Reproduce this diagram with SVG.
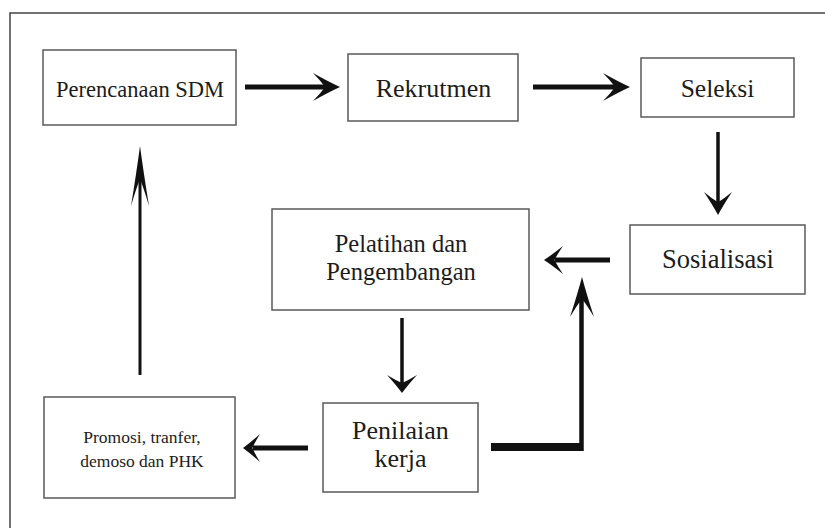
<svg xmlns="http://www.w3.org/2000/svg" xmlns:xlink="http://www.w3.org/1999/xlink" width="825" height="528" viewBox="0 0 825 528">
<style>
.box{fill:#fff;stroke:#5a5a5a;stroke-width:1.5}
.t{font-family:"Liberation Serif","Times New Roman",serif;fill:#1c1c1c;text-anchor:middle}
.sh{stroke:#111;fill:none;stroke-linecap:butt}
.hd{fill:#111}
.frame{stroke:#444;stroke-width:1.5;fill:none}
</style>
<defs>
<path id="head" d="M0,0 Q-0.45,-0.4 -1,-1 Q-0.72,-0.45 -0.55,0 Q-0.72,0.45 -1,1 Q-0.45,0.4 0,0 Z"/>
</defs>
<rect width="825" height="528" fill="#fff"/>
<path class="frame" d="M10,528 L10,13 L825,13"/>

<g id="perencanaan">
<rect class="box" x="43" y="50" width="193" height="75"/>
<text class="t" x="140" y="97" font-size="22.5">Perencanaan SDM</text>
</g>
<g id="rekrutmen">
<rect class="box" x="348" y="54" width="170" height="67"/>
<text class="t" x="433.5" y="97" font-size="26">Rekrutmen</text>
</g>
<g id="seleksi">
<rect class="box" x="641" y="58" width="153" height="59"/>
<text class="t" x="717.5" y="97" font-size="25.5">Seleksi</text>
</g>
<g id="sosialisasi">
<rect class="box" x="630" y="225" width="175" height="69"/>
<text class="t" x="718" y="268" font-size="26.5">Sosialisasi</text>
</g>
<g id="pelatihan">
<rect class="box" x="272" y="209" width="257" height="101"/>
<text class="t" x="401" y="252" font-size="24.5">Pelatihan dan</text>
<text class="t" x="401" y="280" font-size="24.5">Pengembangan</text>
</g>
<g id="penilaian">
<rect class="box" x="323" y="403" width="155" height="89"/>
<text class="t" x="400.5" y="439" font-size="26">Penilaian</text>
<text class="t" x="400.5" y="467" font-size="26">kerja</text>
</g>
<g id="promosi">
<rect class="box" x="44" y="397" width="191" height="101"/>
<text class="t" x="142" y="443" font-size="17.5">Promosi, tranfer,</text>
<text class="t" x="142" y="467" font-size="17.5">demoso dan PHK</text>
</g>

<g id="connectors">
<!-- Perencanaan -> Rekrutmen -->
<line class="sh" x1="245" y1="87" x2="325" y2="87" stroke-width="5"/>
<use xlink:href="#head" class="hd" transform="translate(340,87) scale(27,14)"/>
<!-- Rekrutmen -> Seleksi -->
<line class="sh" x1="533" y1="87" x2="615" y2="87" stroke-width="5"/>
<use xlink:href="#head" class="hd" transform="translate(630,87) scale(27,14)"/>
<!-- Seleksi -> Sosialisasi -->
<line class="sh" x1="718" y1="132" x2="718" y2="205" stroke-width="3.5"/>
<use xlink:href="#head" class="hd" transform="translate(718,215) rotate(90) scale(23,14)"/>
<!-- Sosialisasi -> Pelatihan -->
<line class="sh" x1="610" y1="260" x2="555" y2="260" stroke-width="5"/>
<use xlink:href="#head" class="hd" transform="translate(544,260) rotate(180) scale(19,14)"/>
<!-- Pelatihan -> Penilaian -->
<line class="sh" x1="402" y1="318" x2="402" y2="385" stroke-width="3.5"/>
<use xlink:href="#head" class="hd" transform="translate(402,393) rotate(90) scale(18,15)"/>
<!-- Penilaian -> Promosi -->
<line class="sh" x1="308" y1="448" x2="253" y2="448" stroke-width="5"/>
<use xlink:href="#head" class="hd" transform="translate(243,448) rotate(180) scale(17,14)"/>
<!-- Penilaian -> back up -->
<path class="sh" d="M491,447 L583,447" stroke-width="8"/>
<path class="sh" d="M581.5,451 L581.5,295" stroke-width="4.5"/>
<use xlink:href="#head" class="hd" transform="translate(582,277) rotate(-90) scale(40,12)"/>
<!-- Promosi -> Perencanaan -->
<line class="sh" x1="140" y1="375" x2="140" y2="175" stroke-width="3"/>
<use xlink:href="#head" class="hd" transform="translate(140,146) rotate(-90) scale(60,9)"/>
</g>
</svg>
